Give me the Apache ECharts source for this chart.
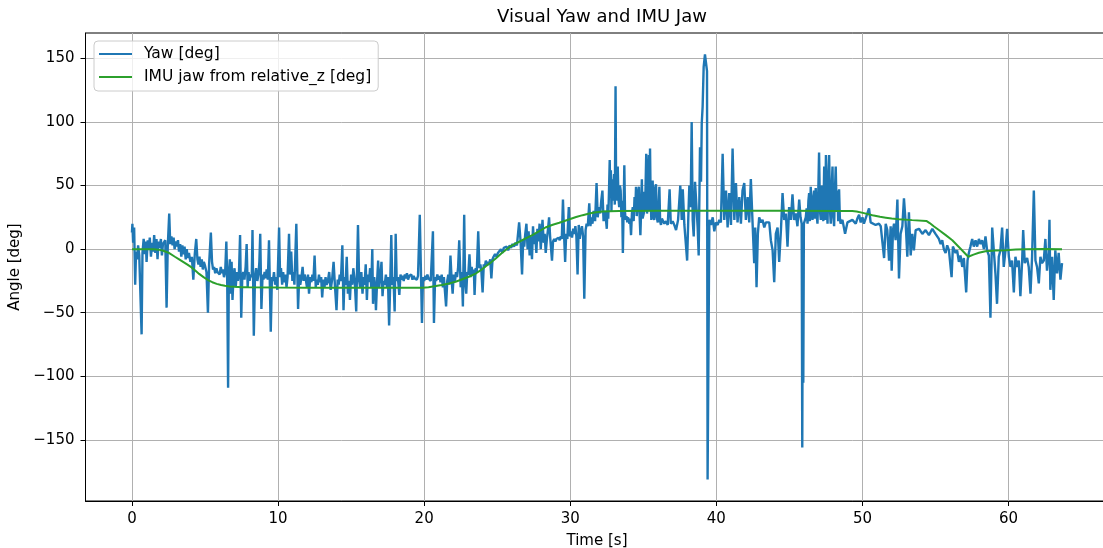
<!DOCTYPE html>
<html>
<head>
<meta charset="utf-8">
<title>Visual Yaw and IMU Jaw</title>
<script src="https://cdn.jsdelivr.net/npm/echarts@6/dist/echarts.min.js"></script>
<style>
  html, body { margin: 0; padding: 0; background: #fff; overflow: hidden; }
  #chart { width: 1120px; height: 548px; }
</style>
</head>
<body>
<div id="chart"></div>
<script>
// 数据：时间 [s] 与角度 [deg]
var yawPoints = [
  [0.00,13],[0.03,20],[0.08,5],[0.15,17],[0.22,-28],[0.28,-2],[0.35,-8],[0.42,3],[0.50,-5],[0.60,-6],
  [0.66,-67],[0.72,-3],[0.80,8],[0.88,-4],[0.95,6],[1.00,-10],[1.08,7],[1.15,0],[1.22,9],[1.30,-6],
  [1.38,5],[1.45,-2],[1.52,11],[1.60,-3],[1.68,8],[1.75,-8],[1.82,6],[1.90,1],[1.98,8],[2.05,-5],
  [2.12,4],[2.20,3],[2.28,7],[2.37,-46],[2.45,2],[2.55,28],[2.62,4],[2.70,10],[2.78,3],[2.85,9],
  [2.92,0],[3.00,6],[3.08,2],[3.15,7],[3.22,-2],[3.30,4],[3.38,-6],[3.45,3],[3.52,-4],[3.60,2],
  [3.68,-8],[3.75,0],[3.82,-7],[3.90,-3],[4.00,-10],[4.10,-6],[4.20,-24],[4.30,-4],[4.40,8],[4.48,-8],
  [4.55,-12],[4.62,-6],[4.70,-14],[4.78,-8],[4.85,-16],[4.92,-10],[5.00,-13],[5.10,-18],[5.20,-50],[5.28,-12],
  [5.40,13],[5.48,-10],[5.55,-16],[5.62,-14],[5.70,-19],[5.78,-15],[5.85,-18],[5.92,-17],[6.00,-20],[6.08,-14],
  [6.15,-19],[6.22,-16],[6.30,-22],[6.38,-18],[6.46,6],[6.52,-25],[6.58,-109],[6.63,-20],[6.70,-8],[6.75,-35],
  [6.82,-10],[6.88,-40],[6.95,-22],[7.02,-15],[7.10,-30],[7.18,-18],[7.25,-25],[7.32,-20],[7.40,11],[7.48,-54],
  [7.55,-22],[7.62,-18],[7.70,-24],[7.78,-14],[7.85,4],[7.92,-30],[7.98,-18],[8.05,-25],[8.12,-20],[8.20,-22],
  [8.25,15],[8.34,-68],[8.42,-22],[8.50,-15],[8.58,-25],[8.66,-20],[8.72,-10],[8.78,12],[8.86,-47],[8.94,-20],
  [9.00,-24],[9.08,-18],[9.15,-23],[9.22,-16],[9.30,-24],[9.38,7],[9.50,-65],[9.58,-22],[9.65,-25],[9.72,-18],
  [9.80,-28],[9.88,-22],[9.95,-32],[10.07,17],[10.14,-22],[10.20,-15],[10.28,-28],[10.35,-18],[10.42,-26],[10.50,-20],
  [10.58,-30],[10.65,-22],[10.75,12],[10.82,-20],[10.90,-2],[10.98,-25],[11.05,-18],[11.12,-28],[11.25,20],[11.37,-47],
  [11.45,-20],[11.52,-28],[11.60,-22],[11.68,-14],[11.75,-25],[11.82,-20],[11.90,-24],[11.98,-30],[12.05,-20],[12.12,-35],
  [12.20,-22],[12.28,-26],[12.35,-20],[12.42,-25],[12.50,-5],[12.58,-30],[12.65,-24],[12.72,-28],[12.80,-20],[12.88,-26],
  [12.95,-22],[13.02,-38],[13.10,-24],[13.18,-30],[13.25,-22],[13.32,-28],[13.40,-26],[13.50,-18],[13.60,-32],[13.70,-24],
  [13.80,-10],[13.90,-30],[14.00,-48],[14.08,-24],[14.15,-28],[14.22,-20],[14.30,-25],[14.40,3],[14.48,-48],[14.55,-22],
  [14.62,-28],[14.70,-6],[14.78,-35],[14.85,-25],[14.92,-40],[15.00,-20],[15.08,-28],[15.15,-15],[15.25,-25],[15.35,-49],
  [15.47,19],[15.55,-25],[15.62,-30],[15.70,-18],[15.78,-35],[15.85,-22],[15.92,-28],[16.00,-12],[16.08,-40],[16.15,-20],
  [16.22,-26],[16.30,-15],[16.38,-30],[16.45,0],[16.50,-43],[16.58,-22],[16.65,-30],[16.70,-48],[16.78,-25],[16.85,-9],
  [16.92,-30],[17.00,-22],[17.08,-10],[17.15,-37],[17.22,-25],[17.30,-28],[17.38,-20],[17.45,-30],[17.52,-22],[17.60,-60],
  [17.68,-25],[17.75,11],[17.82,-28],[17.90,-22],[17.98,-49],[18.05,12],[18.12,-25],[18.20,-22],[18.30,-36],[18.38,-20],
  [18.45,-24],[18.52,-21],[18.60,-25],[18.68,-20],[18.75,-23],[18.82,-19],[18.90,-24],[18.98,-21],[19.05,-22],[19.12,-20],
  [19.20,-24],[19.28,-21],[19.35,-23],[19.42,-22],[19.50,-24],[19.58,-21],[19.70,27],[19.85,-58],[19.92,-22],[20.00,-25],
  [20.08,-21],[20.15,-24],[20.22,-20],[20.30,-23],[20.38,-22],[20.45,-25],[20.60,14],[20.67,-58],[20.75,-22],[20.82,-25],
  [20.90,-20],[20.98,-24],[21.05,-21],[21.12,-26],[21.20,-20],[21.28,-30],[21.35,-22],[21.50,-45],[21.58,-25],[21.65,-20],
  [21.72,-28],[21.80,-5],[21.88,-24],[21.95,-35],[22.02,-20],[22.10,-26],[22.18,-18],[22.25,-22],[22.32,-15],[22.40,7],
  [22.50,-30],[22.58,-18],[22.65,-45],[22.74,27],[22.80,-25],[22.88,-35],[22.95,-18],[23.02,-20],[23.10,-4],[23.18,-22],
  [23.25,-14],[23.32,-20],[23.40,-16],[23.45,-36],[23.52,-15],[23.60,-18],[23.70,14],[23.78,-15],[23.85,-12],[23.92,-18],
  [24.00,-34],[24.08,-12],[24.15,-14],[24.22,-9],[24.30,-13],[24.38,-10],[24.45,-12],[24.52,-8],[24.60,-23],[24.68,-8],
  [24.75,-6],[24.85,-4],[24.95,-6],[25.05,-3],[25.15,-2],[25.25,0],[25.35,-3],[25.45,1],[25.55,0],[25.65,2],
  [25.75,-1],[25.85,3],[25.95,1],[26.05,4],[26.15,2],[26.25,5],[26.35,3],[26.50,21],[26.60,6],[26.70,-20],
  [26.78,8],[26.85,2],[26.92,12],[27.00,20],[27.08,0],[27.15,14],[27.22,-5],[27.30,10],[27.38,-8],[27.45,18],
  [27.52,4],[27.60,12],[27.68,-3],[27.75,16],[27.82,6],[27.90,20],[27.98,0],[28.10,23],[28.18,5],[28.25,12],
  [28.32,-3],[28.40,8],[28.48,16],[28.55,25],[28.62,10],[28.75,-9],[28.82,6],[28.90,8],[28.98,6],[29.05,8],
  [29.12,7],[29.20,9],[29.28,7],[29.35,10],[29.42,8],[29.50,39],[29.58,10],[29.65,-10],[29.72,12],[29.80,8],
  [29.90,33],[29.98,10],[30.05,14],[30.12,9],[30.20,16],[30.28,12],[30.35,18],[30.42,10],[30.50,-20],[30.58,19],
  [30.65,8],[30.72,14],[30.80,18],[30.88,10],[30.96,-39],[31.05,15],[31.12,20],[31.20,18],[31.30,36],[31.38,18],
  [31.45,25],[31.52,20],[31.60,30],[31.70,22],[31.80,52],[31.88,25],[31.95,33],[32.05,28],[32.12,38],[32.20,46],
  [32.28,22],[32.35,30],[32.42,26],[32.50,16],[32.55,35],[32.60,24],[32.65,45],[32.70,70],[32.74,40],[32.78,62],
  [32.82,30],[32.86,55],[32.90,38],[32.95,48],[33.00,59],[33.05,35],[33.10,128],[33.14,45],[33.18,51],[33.22,38],
  [33.25,65],[33.30,40],[33.35,33],[33.40,50],[33.45,46],[33.50,25],[33.55,38],[33.60,-3],[33.65,30],[33.70,66],
  [33.75,28],[33.80,23],[33.85,26],[33.90,21],[33.95,25],[34.00,23],[34.05,20],[34.10,24],[34.16,11],[34.22,28],
  [34.28,33],[34.34,22],[34.40,41],[34.45,30],[34.50,49],[34.55,26],[34.60,33],[34.65,45],[34.70,49],[34.75,25],
  [34.80,11],[34.85,30],[34.90,55],[34.95,24],[35.03,28],[35.08,45],[35.12,30],[35.20,75],[35.25,28],[35.30,33],
  [35.34,60],[35.38,74],[35.42,30],[35.46,79],[35.50,40],[35.55,23],[35.60,45],[35.64,54],[35.70,25],[35.75,23],
  [35.80,48],[35.87,51],[35.92,25],[35.99,21],[36.05,35],[36.10,49],[36.15,22],[36.21,19],[36.27,24],[36.33,23],
  [36.44,20],[36.55,22],[36.67,19],[36.80,47],[36.88,20],[37.01,22],[37.12,19],[37.24,15],[37.38,23],[37.53,50],
  [37.63,23],[37.70,47],[37.81,19],[38.00,-9],[38.08,25],[38.15,50],[38.24,33],[38.31,100],[38.38,23],[38.45,10],
  [38.54,53],[38.60,53],[38.72,17],[38.79,-5],[38.88,80],[38.95,53],[39.00,99],[39.06,112],[39.13,143],[39.22,153],
  [39.29,152],[39.36,140],[39.40,-181],[39.52,23],[39.63,19],[39.75,25],[39.86,14],[39.97,21],[40.09,19],[40.20,23],
  [40.31,21],[40.43,75],[40.54,23],[40.66,46],[40.77,17],[40.88,44],[41.00,19],[41.11,79],[41.23,23],[41.34,52],
  [41.45,21],[41.57,41],[41.68,20],[41.79,46],[41.91,52],[42.02,23],[42.14,41],[42.25,21],[42.36,55],[42.48,20],
  [42.59,-11],[42.66,17],[42.75,-30],[42.84,12],[42.93,25],[43.05,21],[43.16,23],[43.28,17],[43.39,21],[43.50,20],
  [43.62,21],[43.73,7],[43.85,-1],[43.96,-26],[44.07,12],[44.19,17],[44.30,-10],[44.42,15],[44.53,44],[44.64,23],
  [44.76,28],[44.87,2],[44.98,33],[45.10,23],[45.21,43],[45.32,23],[45.44,28],[45.55,18],[45.67,39],[45.76,25],
  [45.84,20],[45.88,-156],[45.92,15],[45.95,-105],[45.99,20],[46.12,25],[46.18,32],[46.24,20],[46.30,38],[46.35,44],
  [46.40,22],[46.46,49],[46.52,30],[46.58,23],[46.63,40],[46.69,46],[46.74,24],[46.80,48],[46.86,28],[46.92,20],
  [46.97,42],[47.03,76],[47.09,30],[47.15,23],[47.20,50],[47.26,46],[47.32,22],[47.38,65],[47.44,23],[47.50,74],
  [47.55,35],[47.61,20],[47.66,55],[47.72,74],[47.78,30],[47.83,20],[47.89,48],[47.95,65],[48.00,26],[48.06,18],
  [48.11,44],[48.17,65],[48.23,30],[48.29,46],[48.34,22],[48.40,47],[48.45,25],[48.50,20],[48.63,23],[48.81,12],
  [48.97,21],[49.08,20],[49.31,23],[49.54,20],[49.65,24],[49.77,27],[49.88,21],[50.00,25],[50.10,20],[50.22,21],
  [50.45,32],[50.56,21],[50.68,22],[50.90,19],[51.13,20],[51.25,18],[51.36,19],[51.48,-7],[51.59,20],[51.70,15],
  [51.82,-9],[51.93,18],[52.00,-17],[52.09,15],[52.16,20],[52.27,7],[52.39,39],[52.50,-23],[52.61,12],[52.73,18],
  [52.84,40],[52.96,20],[53.07,-6],[53.18,29],[53.30,-5],[53.41,12],[53.52,-1],[53.64,15],[53.87,16],[54.10,12],
  [54.32,15],[54.55,11],[54.78,16],[55.00,12],[55.23,8],[55.35,4],[55.46,7],[55.57,0],[55.69,-3],[55.80,3],
  [55.92,-1],[56.10,-22],[56.19,2],[56.37,-3],[56.48,-1],[56.60,-10],[56.71,-5],[56.83,-14],[56.94,-7],[57.10,-34],
  [57.19,-9],[57.28,-3],[57.39,2],[57.51,8],[57.62,2],[57.74,7],[57.85,2],[57.97,8],[58.08,4],[58.19,7],
  [58.31,0],[58.42,10],[58.53,-1],[58.65,-5],[58.76,-54],[58.88,17],[58.99,-1],[59.10,-19],[59.21,-43],[59.33,-6],
  [59.44,-1],[59.56,17],[59.67,-14],[59.79,-1],[59.90,16],[60.02,-6],[60.13,-14],[60.24,-9],[60.36,-34],[60.47,-6],
  [60.59,-14],[60.70,-9],[60.81,-37],[60.93,-9],[61.00,15],[61.11,-11],[61.27,-7],[61.38,-14],[61.50,-35],[61.61,-6],
  [61.73,46],[61.84,-9],[61.95,-14],[62.07,-27],[62.18,-6],[62.29,-11],[62.41,-9],[62.52,8],[62.63,-17],[62.75,-3],
  [62.80,23],[62.86,-32],[62.98,-6],[63.09,-40],[63.20,-1],[63.32,-19],[63.43,-3],[63.55,-24],[63.66,-11]
];

var imuPoints = [
  [0,0],[0.5,0],[1.0,0],[1.46,0],[1.8,-0.4],[2.1,-1.1],[2.5,-2.8],[2.94,-6],[3.2,-7.8],[3.5,-10],
  [3.8,-12.2],[4.08,-14.4],[4.35,-17],[4.6,-19.5],[4.9,-22],[5.2,-24.3],[5.5,-26],[5.8,-27.3],[6.1,-28.2],[6.36,-28.8],
  [6.7,-29.3],[7.04,-29.6],[7.5,-29.9],[8,-30],[10,-30.2],[12,-30.3],[14,-30.3],[16,-30.4],[18,-30.4],[19.9,-30.4],
  [20.3,-30],[20.8,-29],[21.2,-28.2],[21.7,-27],[22.2,-25.4],[22.65,-23.5],[23.1,-21.5],[23.56,-19],[23.9,-16.3],[24.24,-13.3],
  [24.6,-10.2],[24.9,-7.3],[25.3,-3.3],[25.8,1.3],[26.15,3.8],[26.5,5.8],[26.95,8.5],[27.4,11],[27.85,14],[28.3,17],
  [28.8,19.2],[29.25,20.7],[29.9,23.3],[30.4,25.2],[30.85,26.7],[31.3,28],[31.76,29],[32.2,29.5],[32.7,29.8],[33.35,30],
  [36,30.1],[40,30.1],[45,30.1],[48.4,30],[49.3,29.9],[49.6,29.6],[50.1,28.3],[50.68,26.7],[51.2,25.4],[51.6,24.7],
  [52.0,24],[52.5,23.5],[53.4,22.8],[54.37,22.2],[54.6,20.5],[54.9,17.8],[55.23,15],[55.7,11],[56.15,7],[56.7,0.5],
  [57.24,-6],[57.6,-4.3],[57.97,-2.9],[58.42,-1.6],[59.1,-1.1],[59.8,-0.8],[60.5,-0.3],[61.16,0],[62.4,0.1],[63.66,0]
];

var xTicks = [0, 10, 20, 30, 40, 50, 60];
var yTicks = [-150, -100, -50, 0, 50, 100, 150];

(function () {
    var myChart = echarts.init(document.getElementById('chart'), null, { renderer: 'canvas' });
    var font = 'DejaVu Sans';
    var minus = function (v) {
        return v < 0 ? '\u2212' + Math.abs(v) : String(v);
    };
    var option = {
        animation: false,
        backgroundColor: '#ffffff',
        textStyle: { fontFamily: font, color: '#000' },
        title: {
            text: 'Visual Yaw and IMU Jaw',
            left: 597,
            textAlign: 'center',
            top: 3,
            textStyle: { fontFamily: font, fontSize: 18, fontWeight: 'normal', color: '#000' }
        },
        legend: {
            orient: 'vertical',
            left: 94,
            top: 41,
            padding: [5, 7, 6, 5],
            itemGap: 7,
            itemWidth: 33,
            itemHeight: 2,
            icon: 'rect',
            borderColor: '#cccccc',
            borderWidth: 1,
            borderRadius: 4,
            backgroundColor: 'rgba(255,255,255,0.8)',
            textStyle: { fontFamily: font, fontSize: 15.5, color: '#000', padding: [0, 0, 0, 7] },
            data: ['Yaw [deg]', 'IMU jaw from relative_z [deg]']
        },
        grid: {
            left: 85.5,
            top: 33,
            width: 1023,
            height: 468,
            outerBoundsMode: 'none',
            show: true,
            borderColor: '#000',
            borderWidth: 1,
            backgroundColor: 'transparent'
        },
        xAxis: {
            type: 'value',
            min: -3.18,
            max: 66.84,
            name: 'Time [s]',
            nameLocation: 'middle',
            nameGap: 33,
            nameTextStyle: { fontFamily: font, fontSize: 15, color: '#000' },
            axisLine: { onZero: false, lineStyle: { color: '#000', width: 1 } },
            axisTick: { show: true, inside: false, length: 5, customValues: xTicks, lineStyle: { color: '#000', width: 1 } },
            axisLabel: { customValues: xTicks, margin: 11, fontFamily: font, fontSize: 15, color: '#000', formatter: minus },
            splitLine: { show: true, lineStyle: { color: '#b0b0b0', width: 1 } }
        },
        yAxis: {
            type: 'value',
            min: -198,
            max: 169.9,
            name: 'Angle [deg]',
            nameLocation: 'middle',
            nameGap: 57,
            nameTextStyle: { fontFamily: font, fontSize: 15, color: '#000' },
            axisLine: { show: true, onZero: false, lineStyle: { color: '#000', width: 1 } },
            axisTick: { show: true, inside: false, length: 5, customValues: yTicks, lineStyle: { color: '#000', width: 1 } },
            axisLabel: { customValues: yTicks, margin: 11, fontFamily: font, fontSize: 15, color: '#000', formatter: minus },
            splitLine: { show: true, lineStyle: { color: '#b0b0b0', width: 1 } }
        },
        series: [
            {
                name: 'Yaw [deg]',
                type: 'line',
                data: yawPoints,
                symbol: 'none',
                showSymbol: false,
                color: '#1f77b4',
                lineStyle: { color: '#1f77b4', width: 2.4 },
                z: 2
            },
            {
                name: 'IMU jaw from relative_z [deg]',
                type: 'line',
                data: imuPoints,
                symbol: 'none',
                showSymbol: false,
                color: '#2ca02c',
                lineStyle: { color: '#2ca02c', width: 2 },
                z: 3
            }
        ]
    };
    myChart.setOption(option);
    window.addEventListener('resize', function () {
        myChart.resize();
    });
})();
</script>
</body>
</html>
